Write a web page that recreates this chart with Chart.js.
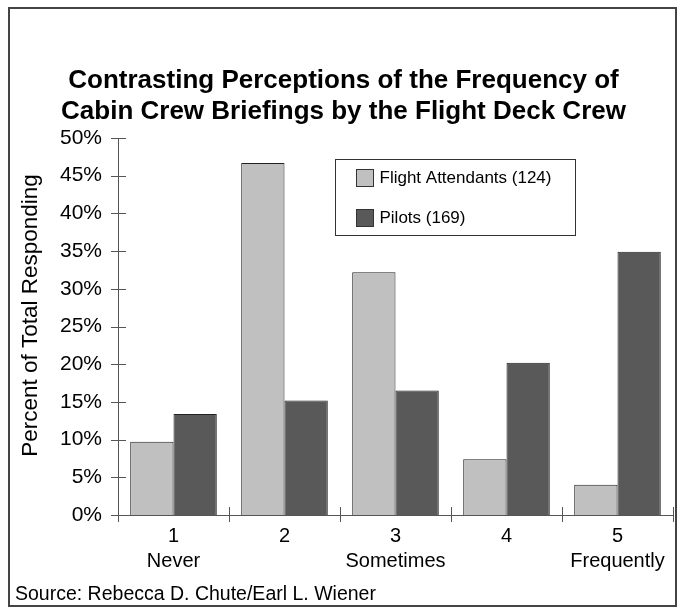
<!DOCTYPE html>
<html>
<head>
<meta charset="utf-8">
<script src="https://cdn.jsdelivr.net/npm/chart.js@4/dist/chart.umd.min.js"></script>
<style>
  body { margin: 0; background: #fff; }
  #wrap { width: 683px; height: 609px; }
</style>
</head>
<body>
<div id="wrap"><canvas id="myChart"></canvas></div>
<script>
'use strict';

// data
var categories = [['1', 'Never'], ['2', ''], ['3', 'Sometimes'], ['4', ''], ['5', 'Frequently']];
var attendants = [9.7, 46.7, 32.2, 7.4, 4.0];
var pilots = [13.4, 15.2, 16.5, 20.2, 34.9];
var seriesNames = ['Flight Attendants (124)', 'Pilots (169)'];
var yTicks = [0, 5, 10, 15, 20, 25, 30, 35, 40, 45, 50];
var yTitle = 'Percent of Total Responding';
var sourceNote = 'Source: Rebecca D. Chute/Earl L. Wiener';

var fontFamily = '"Liberation Sans", Arial, Helvetica, sans-serif';
var lightGrey = '#c0c0c0';
var darkGrey = '#595959';
var axisColor = '#555555';

// white page, the thin frame round it, y title and source line
var framePlugin = {
  id: 'frame',
  beforeDraw: function(chart) {
    var c = chart.ctx;
    c.save();
    c.fillStyle = '#fff';
    c.fillRect(0, 0, chart.width, chart.height);
    c.strokeStyle = '#444';
    c.lineWidth = 2;
    c.strokeRect(9, 8, 667, 598);
    c.restore();
  },
  afterDraw: function(chart) {
    var c = chart.ctx;
    var ys = chart.scales.y;
    c.save();
    c.fillStyle = '#000';
    c.textBaseline = 'middle';
    c.font = '19.5px ' + fontFamily;
    c.textAlign = 'left';
    c.fillText(sourceNote, 15, 595);
    // axis title, sits a bit above the middle like the original
    c.translate(ys.left + 17, ys.top + (ys.bottom - ys.top) / 2 - 11);
    c.rotate(-Math.PI / 2);
    c.textAlign = 'center';
    c.font = '22.5px ' + fontFamily;
    c.fillText(yTitle, 0, 0);
    c.restore();
  }
};

// tick marks that cross the axis lines
var crossTicks = {
  id: 'crossTicks',
  afterDraw: function(chart) {
    var c = chart.ctx;
    var xs = chart.scales.x;
    var ys = chart.scales.y;
    c.save();
    c.strokeStyle = axisColor;
    c.lineWidth = 1;
    c.beginPath();
    yTicks.forEach(function(v) {
      var py = Math.round(ys.getPixelForValue(v)) + 0.5;
      c.moveTo(ys.right - 7, py);
      c.lineTo(ys.right + 8, py);
    });
    var step = xs.width / categories.length;
    for (var i = 0; i <= categories.length; i++) {
      var px = Math.round(xs.left + i * step) + 0.5;
      c.moveTo(px, xs.top - 8);
      c.lineTo(px, xs.top + 7);
    }
    c.stroke();
    c.restore();
  }
};

// boxed legend sitting inside the plot
var boxLegend = {
  id: 'boxLegend',
  afterDraw: function(chart) {
    var c = chart.ctx;
    var area = chart.chartArea;
    var bx = area.left + 217.5;
    var by = area.top + 21.5;
    c.save();
    c.strokeStyle = '#333';
    c.lineWidth = 1;
    c.fillStyle = '#fff';
    c.fillRect(bx, by, 240, 76);
    c.strokeRect(bx, by, 240, 76);
    c.font = '17px ' + fontFamily;
    c.textBaseline = 'middle';
    chart.data.datasets.forEach(function(ds, i) {
      var ry = by + 10 + i * 40;
      c.fillStyle = ds.backgroundColor;
      c.fillRect(bx + 21, ry, 17, 17);
      c.strokeStyle = '#333';
      c.strokeRect(bx + 21, ry, 17, 17);
      c.fillStyle = '#000';
      c.fillText(ds.label, bx + 44, ry + 9);
    });
    c.restore();
  }
};

var ctx = document.getElementById('myChart').getContext('2d');
var chart = new Chart(ctx, {
  type: 'bar',
  data: {
    labels: categories,
    datasets: [{
      label: seriesNames[0],
      data: attendants,
      backgroundColor: lightGrey,
      borderColor: '#222',
      borderWidth: 1
    }, {
      label: seriesNames[1],
      data: pilots,
      backgroundColor: darkGrey,
      borderColor: '#222',
      borderWidth: 1
    }]
  },
  options: {
    responsive: true,
    maintainAspectRatio: false,
    animation: false,
    datasets: {
      bar: { categoryPercentage: 0.78, barPercentage: 1.0 }
    },
    layout: {
      padding: { left: 14, right: 10, top: 10, bottom: 34 }
    },
    plugins: {
      legend: { display: false },
      tooltip: { enabled: false },
      title: {
        display: true,
        text: ['Contrasting Perceptions of the Frequency of', 'Cabin Crew Briefings by the Flight Deck Crew'],
        color: '#000',
        font: { family: fontFamily, size: 26, weight: 'bold', lineHeight: 1.2 },
        padding: { top: 55, bottom: 10.6 }
      }
    },
    scales: {
      x: {
        grid: { display: false, drawTicks: false },
        border: { display: true, color: axisColor, width: 1 },
        ticks: {
          color: '#000',
          maxRotation: 0,
          autoSkip: false,
          padding: 8.5,
          font: { family: fontFamily, size: 20, lineHeight: 1.25 }
        },
        afterFit: function(scale) { scale.height = 60; }
      },
      y: {
        min: 0,
        max: 50,
        grid: { display: false, drawTicks: false },
        border: { display: true, color: axisColor, width: 1 },
        afterBuildTicks: function(scale) {
          scale.ticks = yTicks.map(function(v) { return { value: v }; });
        },
        ticks: {
          color: '#000',
          padding: 16,
          font: { family: fontFamily, size: 21 },
          callback: function(v) { return v + '%'; }
        },
        afterFit: function(scale) { scale.width = 104; }
      }
    }
  },
  plugins: [framePlugin, crossTicks, boxLegend]
});
</script>
</body>
</html>
